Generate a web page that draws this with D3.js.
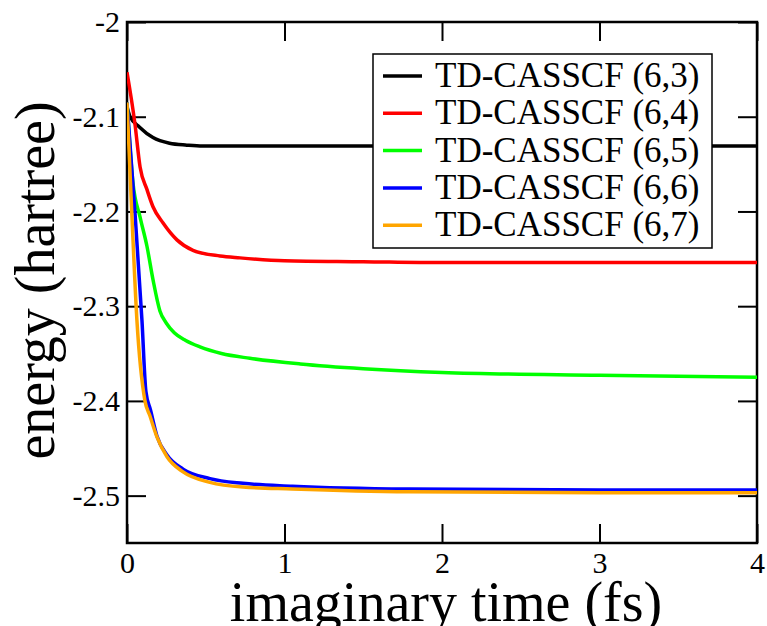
<!DOCTYPE html>
<html>
<head>
<meta charset="utf-8">
<script src="https://cdn.jsdelivr.net/npm/d3@7"></script>
<style>
  body { margin: 0; background: #fff; }
  svg { display: block; }
</style>
</head>
<body>
<svg width="767" height="626"></svg>
<script>
// imaginary time (fs) sample points
const tBlack = [0, 0.02, 0.08, 0.165, 0.27, 0.38, 0.48, 0.7, 1, 2, 3, 4];
const eBlack = [-2.09, -2.1, -2.111, -2.122, -2.128, -2.13, -2.131, -2.131, -2.131, -2.131, -2.131, -2.131];

const tRed = [0, 0.05, 0.083, 0.127, 0.165, 0.228, 0.317, 0.419, 0.59, 0.717, 1, 1.5, 2, 3, 4];
const eRed = [-2.053, -2.107, -2.153, -2.177, -2.195, -2.212, -2.23, -2.241, -2.247, -2.249, -2.252, -2.253, -2.254, -2.254, -2.254];

const tGreen = [0, 0.038, 0.083, 0.127, 0.165, 0.209, 0.25, 0.3, 0.37, 0.463, 0.6, 0.78, 1.1, 1.5, 2, 3, 4];
const eGreen = [-2.085, -2.17, -2.206, -2.237, -2.272, -2.305, -2.318, -2.328, -2.336, -2.343, -2.35, -2.355, -2.361, -2.366, -2.37, -2.373, -2.375];

const tBlue = [0, 0.05, 0.095, 0.12, 0.15, 0.19, 0.254, 0.356, 0.527, 0.737, 1.05, 1.79, 3, 4];
const eBlue = [-2.085, -2.2, -2.315, -2.39, -2.41, -2.437, -2.457, -2.472, -2.482, -2.487, -2.49, -2.493, -2.494, -2.494];

const tOrange = [0, 0.03, 0.063, 0.114, 0.146, 0.19, 0.254, 0.356, 0.527, 0.737, 1.05, 1.79, 3, 4];
const eOrange = [-2.085, -2.2, -2.315, -2.4, -2.416, -2.438, -2.459, -2.475, -2.486, -2.491, -2.493, -2.496, -2.497, -2.497];

const seriesNames = ["TD-CASSCF (6,3)", "TD-CASSCF (6,4)", "TD-CASSCF (6,5)", "TD-CASSCF (6,6)", "TD-CASSCF (6,7)"];
const seriesColors = ["#000000", "#ff0000", "#00ff00", "#0000ff", "#ffa500"];

const xTicks = [0, 1, 2, 3, 4];
const yTicks = [-2, -2.1, -2.2, -2.3, -2.4, -2.5];
const yTickLabels = ["-2", "-2.1", "-2.2", "-2.3", "-2.4", "-2.5"];

const serif = "Liberation Serif";

const margin = { top: 22, right: 10, bottom: 83, left: 127 };
const svg = d3.select("svg").style("font-family", serif);
const width = +svg.attr("width") - margin.left - margin.right;
const height = +svg.attr("height") - margin.top - margin.bottom;
const g = svg.append("g").attr("transform", "translate(" + margin.left + "," + margin.top + ")");

const x = d3.scaleLinear().domain([0, 4]).range([0, width]);
const y = d3.scaleLinear().domain([-2.55, -2]).range([height, 0]);

const series = [
  [tBlack, eBlack], [tRed, eRed], [tGreen, eGreen], [tBlue, eBlue], [tOrange, eOrange]
].map((s, i) => ({
  name: seriesNames[i],
  color: seriesColors[i],
  values: s[0].map((t, j) => ({ t: t, e: s[1][j] }))
}));

svg.append("defs").append("clipPath").attr("id", "clip")
  .append("rect").attr("width", width).attr("height", height);

const line = d3.line()
  .curve(d3.curveMonotoneX)
  .x(d => x(d.t))
  .y(d => y(d.e));

const tickLen = 19;

// axes: ticks pointing inward on all four sides
const tickStyle = sel => {
  sel.attr("font-family", null);
  sel.select(".domain").remove();
  sel.selectAll(".tick line").attr("stroke", "#000").attr("stroke-width", 2);
  sel.selectAll(".tick text").attr("fill", "#000").style("font-family", serif);
};

g.append("g")
  .attr("transform", "translate(0," + height + ")")
  .call(d3.axisBottom(x).tickValues(xTicks).tickSize(-tickLen).tickFormat(d3.format("d")))
  .call(tickStyle)
  .call(a => a.selectAll("text").attr("font-size", 30).attr("dy", null).attr("y", 30));

g.append("g")
  .call(d3.axisTop(x).tickValues(xTicks).tickSize(-tickLen).tickFormat(""))
  .call(tickStyle);

g.append("g")
  .call(d3.axisLeft(y).tickValues(yTicks).tickSize(-tickLen)
    .tickFormat((d, i) => yTickLabels[i]))
  .call(tickStyle)
  .call(a => a.selectAll("text").attr("font-size", 30).attr("x", -7));

g.append("g")
  .attr("transform", "translate(" + width + ",0)")
  .call(d3.axisRight(y).tickValues(yTicks).tickSize(-tickLen).tickFormat(""))
  .call(tickStyle);

g.append("rect")
  .attr("width", width).attr("height", height)
  .attr("fill", "none").attr("stroke", "#000").attr("stroke-width", 2.5);

g.append("g").attr("clip-path", "url(#clip)")
  .selectAll("path")
  .data(series)
  .enter().append("path")
  .attr("d", d => line(d.values))
  .attr("fill", "none")
  .attr("stroke", d => d.color)
  .attr("stroke-width", 3.5)
  .attr("stroke-linejoin", "round");

// axis titles
svg.append("text")
  .attr("x", margin.left + width / 2 + 4)
  .attr("y", 621)
  .attr("text-anchor", "middle")
  .attr("font-size", 56)
  .style("font-family", serif)
  .text("imaginary time (fs)");

svg.append("text")
  .attr("transform", "translate(54," + (margin.top + height / 2 - 2) + ") rotate(-90)")
  .attr("text-anchor", "middle")
  .attr("font-size", 56)
  .style("font-family", serif)
  .text("energy (hartree)");

// legend
const legend = svg.append("g");
legend.append("rect")
  .attr("x", 373).attr("y", 54).attr("width", 339).attr("height", 194)
  .attr("fill", "#fff").attr("stroke", "#000").attr("stroke-width", 1.5);

const item = legend.selectAll(".item")
  .data(series)
  .enter().append("g")
  .attr("class", "item")
  .attr("transform", (d, i) => "translate(0," + (76 + i * 37.3) + ")");

item.append("line")
  .attr("x1", 383).attr("x2", 422)
  .attr("stroke", d => d.color)
  .attr("stroke-width", 3.5);

item.append("text")
  .attr("x", 435).attr("y", 11)
  .attr("font-size", 35)
  .style("font-family", serif)
  .text(d => d.name);
</script>
</body>
</html>
